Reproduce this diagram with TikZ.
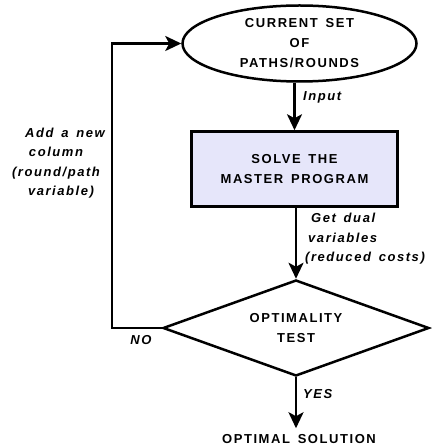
\documentclass[tikz,border=0pt]{standalone}
\usepackage{fontspec}
\usetikzlibrary{shapes.geometric,arrows.meta}
\newfontfamily\lblfont[LetterSpace=12,WordSpace=1.5]{Liberation Sans}
\definecolor{boxfill}{RGB}{230,230,250}
\begin{document}
\begin{tikzpicture}[x=1pt,y=-1pt,
  every node/.style={font=\lblfont\bfseries\fontsize{13}{20}\selectfont, inner sep=0pt},
  shapeline/.style={draw=black, line width=2.5pt},
  lbl/.style={font=\lblfont\bfseries\itshape\fontsize{13}{19.5}\selectfont, align=left},
  arr/.style={line width=2.5pt, -{Stealth[length=16pt,width=15pt,inset=4pt]}}]
\useasboundingbox (0,0) rectangle (431,446);

\node[shapeline, ellipse, minimum width=234pt, minimum height=76pt, align=center] (ell) at (299.5,43.5)
  {CURRENT SET\\OF\\PATHS/ROUNDS};
\node[shapeline, fill=boxfill, rectangle, minimum width=206pt, minimum height=75pt, align=center] (box) at (294.5,169)
  {SOLVE THE\\MASTER PROGRAM};
\node[shapeline, diamond, aspect=2.76, minimum width=266pt, minimum height=96pt, align=center] (dia) at (296,328)
  {OPTIMALITY\\TEST};
\node[anchor=base, inner sep=6pt] (sol) at (299,443.5) {OPTIMAL SOLUTION};

\coordinate (lp) at (112,330);

\draw[arr] (ell.south -| box.north) -- (box.north);
\draw[arr] (box.south -| dia.north) -- (dia.north);
\draw[arr] (dia.south) -- (dia.south |- sol.north);
\draw[arr] (dia.west) -- (dia.west -| lp) |- (ell.west);

\node[lbl, anchor=west] (lin) at (303,97) {Input};
\node[lbl, anchor=north west] (ldual) at (305,213) {\hspace{6pt}Get dual\\\hspace{3pt}variables\\(reduced costs)};
\node[lbl, align=center] (ladd) at (56,163) {\hspace{18pt}Add a new\\column\\(round/path\\\hspace{10pt}variable)};
\node[lbl] (lno) at (141,340) {NO};
\node[lbl, anchor=west] (lyes) at (303,394) {YES};
\end{tikzpicture}
\end{document}
